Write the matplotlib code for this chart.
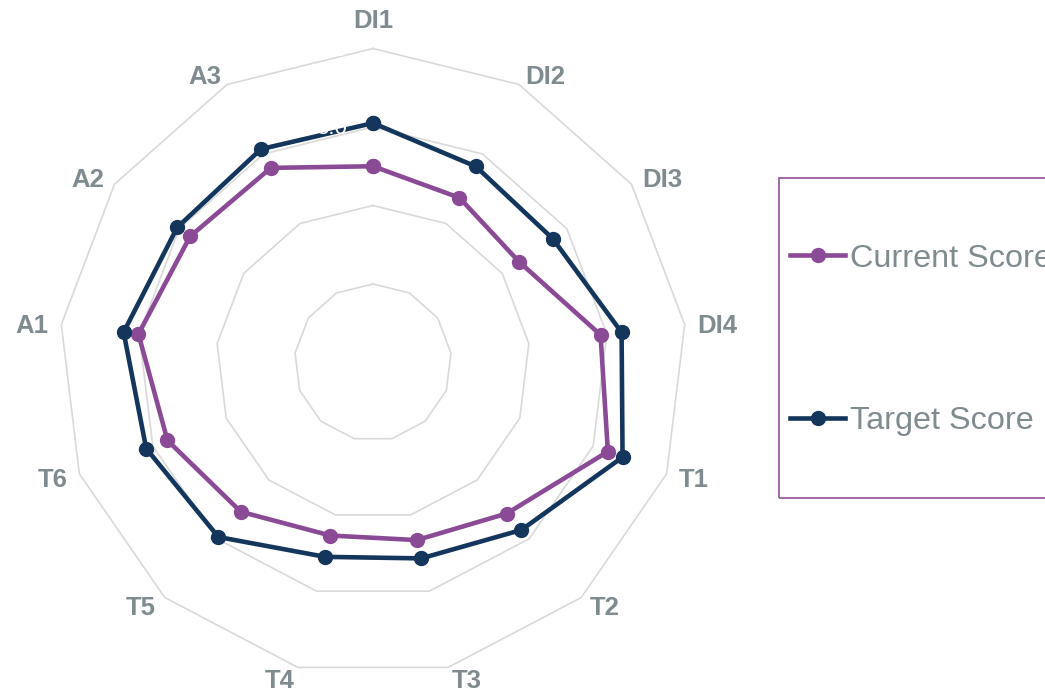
import numpy as np
import matplotlib
matplotlib.use('Agg')
import matplotlib.pyplot as plt
from matplotlib.patches import Rectangle

plt.rcParams['font.family'] = ['Liberation Sans', 'DejaVu Sans']

categories = ['DI1', 'DI2', 'DI3', 'DI4', 'T1', 'T2', 'T3', 'T4', 'T5', 'T6', 'A1', 'A2', 'A3']
current_score = [2.50, 2.37, 2.26, 2.92, 3.20, 2.57, 2.33, 2.27, 2.54, 2.80, 3.01, 2.83, 2.80]
target_score = [3.05, 2.82, 2.78, 3.19, 3.40, 2.85, 2.57, 2.55, 2.97, 3.09, 3.20, 3.03, 3.07]
rings = [1, 2, 3, 4]
ring_labels = ['1.0', '2.0', '3.0', '4.0']

purple = '#8b4a96'
navy = '#14365c'
grey_txt = '#7f8b8f'
grid_col = '#d9d9d9'

n = len(categories)
theta = np.arange(n) * 2 * np.pi / n
theta_c = np.append(theta, theta[0])

fig = plt.figure(figsize=(10.45, 6.92), dpi=100)
ax = fig.add_axes([59 / 1045, 15.5 / 692, 628 / 1045, 628 / 692], projection='polar')
ax.set_theta_offset(np.pi / 2)
ax.set_theta_direction(-1)
ax.set_ylim(0, 4)
ax.grid(False)
ax.set_xticks([])
ax.set_yticks([])
ax.spines['polar'].set_visible(False)
ax.patch.set_alpha(0)

# polygon grid
for r in rings:
    ax.plot(theta_c, [r] * (n + 1), color=grid_col, lw=1.2, zorder=1, clip_on=False)

cur = current_score + current_score[:1]
tgt = target_score + target_score[:1]
ax.plot(theta_c, cur, color=purple, lw=3.3, marker='o', ms=10, zorder=3, label='Current Score')
ax.plot(theta_c, tgt, color=navy, lw=3.3, marker='o', ms=10, zorder=4, label='Target Score')

# value labels (white, like the original)
for r, t in zip(rings, ring_labels):
    ax.annotate(t, xy=(0, r), xytext=(-26, -2), textcoords='offset pixels',
                ha='right', va='center', color='white', fontsize=16,
                zorder=5, annotation_clip=False)

# category labels
for k, lab in enumerate(categories):
    s, c = np.sin(theta[k]), np.cos(theta[k])
    if abs(s) < 0.1:
        ha, dx, dy = 'center', 0, 30
    else:
        ha = 'left' if s > 0 else 'right'
        dx = np.sign(s) * 13 * abs(s)
        dy = 11 * c
    ax.annotate(lab, xy=(theta[k], 4), xytext=(dx, dy), textcoords='offset pixels',
                ha=ha, va='center_baseline', color=grey_txt, fontsize=18.5,
                fontweight='bold', annotation_clip=False)

# legend (box runs past the right edge, as in the original)
fig.patches.append(Rectangle((779 / 1045, (692 - 498) / 692), 0.4, 320 / 692,
                             transform=fig.transFigure, fill=False,
                             edgecolor='#9a5ca0', lw=1.3))
leg = fig.legend(loc='center left', bbox_to_anchor=(790 / 1045, (692 - 340) / 692),
                 frameon=False, fontsize=23.3, handlelength=1.7, handletextpad=0.15,
                 labelspacing=4.1, borderpad=0, borderaxespad=0)
for t in leg.get_texts():
    t.set_color(grey_txt)

fig.savefig('out.png', dpi=100)
